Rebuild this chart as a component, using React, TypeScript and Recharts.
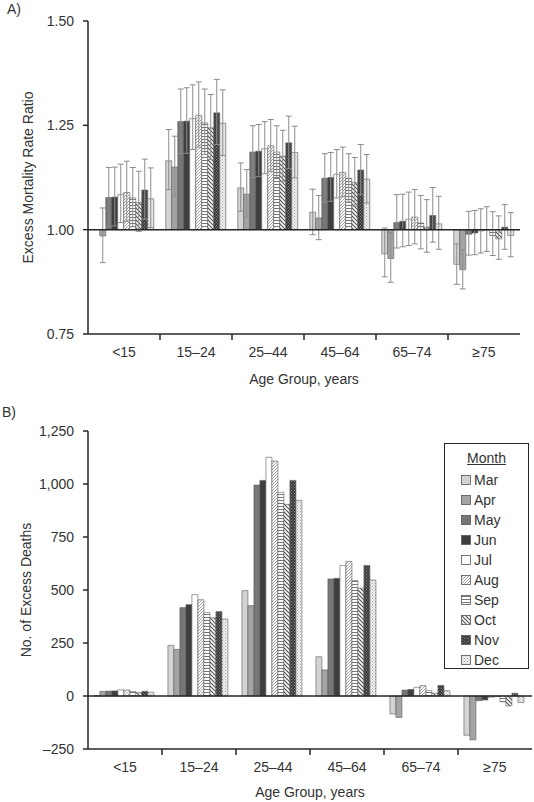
import React from 'react';
import { BarChart, Bar, XAxis, YAxis, ErrorBar, ReferenceLine, Legend, Label } from 'recharts';

const ageGroups = ['<15', '15–24', '25–44', '45–64', '65–74', '≥75'];
const months = ['Mar', 'Apr', 'May', 'Jun', 'Jul', 'Aug', 'Sep', 'Oct', 'Nov', 'Dec'];

// A) excess mortality rate ratio, by age group
const ratioMar = [1.0, 1.165, 1.1, 1.042, 0.942, 0.917];
const ratioApr = [0.985, 1.15, 1.085, 1.028, 0.931, 0.904];
const ratioMay = [1.077, 1.259, 1.186, 1.123, 1.017, 0.989];
const ratioJun = [1.078, 1.26, 1.188, 1.125, 1.02, 0.992];
const ratioJul = [1.084, 1.266, 1.194, 1.133, 1.025, 0.997];
const ratioAug = [1.089, 1.274, 1.201, 1.137, 1.03, 0.999];
const ratioSep = [1.076, 1.256, 1.186, 1.123, 1.016, 0.986];
const ratioOct = [1.065, 1.244, 1.176, 1.113, 1.006, 0.978];
const ratioNov = [1.095, 1.28, 1.208, 1.143, 1.034, 1.006];
const ratioDec = [1.074, 1.255, 1.185, 1.121, 1.014, 0.986];

// 95% CI upper bounds
const upperMar = [1.066, 1.24, 1.16, 1.097, 1.004, 0.966];
const upperApr = [1.052, 1.224, 1.144, 1.082, 0.993, 0.952];
const upperMay = [1.149, 1.337, 1.249, 1.182, 1.084, 1.044];
const upperJun = [1.15, 1.34, 1.252, 1.185, 1.085, 1.046];
const upperJul = [1.157, 1.347, 1.259, 1.192, 1.09, 1.05];
const upperAug = [1.164, 1.354, 1.264, 1.198, 1.096, 1.055];
const upperSep = [1.149, 1.337, 1.249, 1.182, 1.082, 1.043];
const upperOct = [1.14, 1.324, 1.238, 1.173, 1.072, 1.033];
const upperNov = [1.169, 1.36, 1.272, 1.204, 1.101, 1.06];
const upperDec = [1.148, 1.335, 1.248, 1.18, 1.08, 1.041];

// 95% CI lower bounds
const lowerMar = [0.934, 1.096, 1.044, 0.988, 0.887, 0.869];
const lowerApr = [0.921, 1.081, 1.03, 0.976, 0.874, 0.858];
const lowerMay = [1.008, 1.182, 1.125, 1.066, 0.956, 0.939];
const lowerJun = [1.009, 1.183, 1.127, 1.068, 0.959, 0.94];
const lowerJul = [1.017, 1.192, 1.134, 1.076, 0.962, 0.944];
const lowerAug = [1.02, 1.198, 1.14, 1.079, 0.966, 0.948];
const lowerSep = [1.007, 1.18, 1.125, 1.066, 0.954, 0.938];
const lowerOct = [0.996, 1.168, 1.116, 1.056, 0.946, 0.929];
const lowerNov = [1.025, 1.204, 1.146, 1.084, 0.97, 0.953];
const lowerDec = [1.005, 1.178, 1.124, 1.064, 0.953, 0.935];

// B) number of excess deaths, by age group
const deathsMar = [2, 239, 497, 185, -85, -185];
const deathsApr = [22, 220, 426, 123, -101, -207];
const deathsMay = [23, 417, 995, 552, 28, -22];
const deathsJun = [24, 431, 1017, 555, 31, -19];
const deathsJul = [29, 478, 1126, 616, 41, -6];
const deathsAug = [28, 454, 1108, 635, 49, -2];
const deathsSep = [21, 393, 961, 545, 25, -27];
const deathsOct = [16, 369, 904, 508, 13, -47];
const deathsNov = [22, 398, 1017, 616, 50, 13];
const deathsDec = [18, 363, 923, 547, 25, -31];

const ratioTicks = [0.75, 1.0, 1.25, 1.5];
const deathTicks = [-250, 0, 250, 500, 750, 1000, 1250];

const ratios = [ratioMar, ratioApr, ratioMay, ratioJun, ratioJul, ratioAug, ratioSep, ratioOct, ratioNov, ratioDec];
const uppers = [upperMar, upperApr, upperMay, upperJun, upperJul, upperAug, upperSep, upperOct, upperNov, upperDec];
const lowers = [lowerMar, lowerApr, lowerMay, lowerJun, lowerJul, lowerAug, lowerSep, lowerOct, lowerNov, lowerDec];
const deaths = [deathsMar, deathsApr, deathsMay, deathsJun, deathsJul, deathsAug, deathsSep, deathsOct, deathsNov, deathsDec];

// bars hang from 1.00, so plot the distance from 1 and relabel the ticks
const rateData = ageGroups.map((age, i) => {
  const row: any = { age };
  months.forEach((m, j) => {
    const r = ratios[j][i];
    row[m] = r - 1;
    row[m + 'Err'] = [r - lowers[j][i], uppers[j][i] - r];
  });
  return row;
});

const deathData = ageGroups.map((age, i) => {
  const row: any = { age };
  months.forEach((m, j) => {
    row[m] = deaths[j][i];
  });
  return row;
});

const fills: Record<string, string> = {
  Mar: '#d3d3d3',
  Apr: '#a4a4a4',
  May: '#767676',
  Jun: '#3e3e3e',
  Jul: '#ffffff',
  Aug: 'url(#pAug)',
  Sep: 'url(#pSep)',
  Oct: 'url(#pOct)',
  Nov: 'url(#pNov)',
  Dec: 'url(#pDec)',
};

const FONT = '"Liberation Sans", Arial, Helvetica, sans-serif';
const INK = '#262626';
const TEXT = '#333';

const Patterns = () => (
  <svg width={0} height={0} style={{ position: 'absolute' }}>
    <defs>
      <pattern id="pAug" patternUnits="userSpaceOnUse" width={3} height={3}>
        <rect width={3} height={3} fill="#fff" />
        <path d="M-1,1 l2,-2 M0,3 l3,-3 M2,4 l2,-2" stroke="#8a8a8a" strokeWidth={0.8} />
      </pattern>
      <pattern id="pSep" patternUnits="userSpaceOnUse" width={4} height={3}>
        <rect width={4} height={3} fill="#fff" />
        <line x1={0} y1={1.5} x2={4} y2={1.5} stroke="#777" strokeWidth={1} />
      </pattern>
      <pattern id="pOct" patternUnits="userSpaceOnUse" width={4} height={4}>
        <rect width={4} height={4} fill="#fff" />
        <path d="M0,0 l4,4 M-1,3 l2,2 M3,-1 l2,2" stroke="#555" strokeWidth={1.2} />
      </pattern>
      <pattern id="pNov" patternUnits="userSpaceOnUse" width={3} height={3}>
        <rect width={3} height={3} fill="#3a3a3a" />
        <rect x={0} y={0} width={1} height={1} fill="#8a8a8a" />
        <rect x={1.5} y={1.5} width={1} height={1} fill="#8a8a8a" />
      </pattern>
      <pattern id="pDec" patternUnits="userSpaceOnUse" width={3} height={3}>
        <rect width={3} height={3} fill="#f2f2f2" />
        <rect x={0} y={0} width={1} height={1} fill="#a0a0a0" />
        <rect x={1.5} y={1.5} width={1} height={1} fill="#b0b0b0" />
      </pattern>
    </defs>
  </svg>
);

// labels sit in the middle of a band, tick marks on the band edges
const makeAgeTick = (halfBand: number) => (props: any) => {
  const { x, y, payload, index } = props;
  return (
    <g>
      {index < ageGroups.length - 1 && (
        <line x1={x + halfBand} x2={x + halfBand} y1={y} y2={y + 6} stroke={INK} strokeWidth={1.5} />
      )}
      <text x={x} y={y + 23} textAnchor="middle" fontSize={14} fill={TEXT}>
        {payload.value}
      </text>
    </g>
  );
};

const sideTitle = (text: string, dx: number) => (props: any) => {
  const vb = props.viewBox || { x: 0, y: 0, height: 0 };
  const cx = vb.x + dx;
  const cy = vb.y + vb.height / 2;
  return (
    <text x={cx} y={cy} transform={`rotate(-90 ${cx} ${cy})`} textAnchor="middle" dominantBaseline="central" fontSize={14} fill={TEXT}>
      {text}
    </text>
  );
};

const MonthLegend = (props: any) => {
  // keep calendar order, the legend sorts by name otherwise
  const items = [...(props.payload || [])].sort(
    (a: any, b: any) => months.indexOf(a.value) - months.indexOf(b.value)
  );
  return (
    <div
      style={{
        width: 85,
        height: 226,
        boxSizing: 'border-box',
        border: `1.5px solid ${INK}`,
        background: '#fff',
        fontFamily: FONT,
        fontSize: 14,
        color: TEXT,
      }}
    >
      <div style={{ textAlign: 'center', textDecoration: 'underline', marginTop: 4, lineHeight: '20px' }}>Month</div>
      <div style={{ marginTop: 2 }}>
        {items.map((it: any) => (
          <div key={it.value} style={{ display: 'flex', alignItems: 'center', height: 20, paddingLeft: 16 }}>
            <svg width={10} height={10} style={{ marginRight: 3 }}>
              <rect x={0.5} y={0.5} width={9} height={9} fill={fills[it.value]} stroke="#555" strokeWidth={0.8} />
            </svg>
            <span>{it.value}</span>
          </div>
        ))}
      </div>
    </div>
  );
};

const axisStroke = { stroke: INK, strokeWidth: 1.5 };

export default function App() {
  return (
    <div style={{ position: 'relative', width: 534, height: 802, fontFamily: FONT, background: '#fff' }}>
      <style>{`body{margin:0;}`}</style>
      <Patterns />

      <div style={{ position: 'absolute', left: 7, top: 1, fontSize: 14, color: TEXT }}>A)</div>
      <div style={{ position: 'absolute', left: 2, top: 404, fontSize: 14, color: TEXT }}>B)</div>

      <div style={{ position: 'absolute', left: 0, top: 0 }}>
        <BarChart
          width={534}
          height={400}
          data={rateData}
          margin={{ top: 21, right: 14, bottom: 0, left: 0 }}
          barCategoryGap="8%"
          barGap={0}
        >
          <XAxis
            dataKey="age"
            height={66}
            interval={0}
            tickSize={0}
            tickMargin={0}
            tickLine={false}
            axisLine={axisStroke}
            tick={makeAgeTick(36)}
          >
            <Label value="Age Group, years" position="insideBottom" offset={16} fontSize={14} fill={TEXT} />
          </XAxis>
          <YAxis
            width={88}
            type="number"
            domain={[-0.25, 0.5]}
            ticks={ratioTicks.map((t) => t - 1)}
            allowDataOverflow
            tickFormatter={(t: number) => (1 + t).toFixed(2)}
            tickSize={5}
            tickMargin={9}
            tickLine={axisStroke}
            axisLine={axisStroke}
            tick={{ fontSize: 14, fill: TEXT }}
          >
            <Label content={sideTitle('Excess Mortality Rate Ratio', 28)} />
          </YAxis>
          {months.map((m) => (
            <Bar key={m} dataKey={m} name={m} fill={fills[m]} stroke="#5a5a5a" strokeWidth={0.6} isAnimationActive={false}>
              <ErrorBar dataKey={m + 'Err'} width={3} stroke="#8c8c8c" strokeWidth={1} direction="y" isAnimationActive={false} />
            </Bar>
          ))}
          <ReferenceLine y={0} stroke={INK} strokeWidth={1.5} />
        </BarChart>
      </div>

      <div style={{ position: 'absolute', left: 0, top: 400 }}>
        <BarChart
          width={534}
          height={402}
          data={deathData}
          margin={{ top: 31, right: 2, bottom: 0, left: 0 }}
          barCategoryGap="8%"
          barGap={0}
        >
          <XAxis
            dataKey="age"
            height={53}
            interval={0}
            tickSize={0}
            tickMargin={0}
            tickLine={false}
            axisLine={axisStroke}
            tick={makeAgeTick(37)}
          >
            <Label value="Age Group, years" position="insideBottom" offset={5} fontSize={14} fill={TEXT} />
          </XAxis>
          <YAxis
            width={88}
            type="number"
            domain={[-250, 1250]}
            ticks={deathTicks}
            allowDataOverflow
            tickFormatter={(t: number) => (t < 0 ? '–' + Math.abs(t).toLocaleString('en-US') : t.toLocaleString('en-US'))}
            tickSize={5}
            tickMargin={9}
            tickLine={axisStroke}
            axisLine={axisStroke}
            tick={{ fontSize: 14, fill: TEXT }}
          >
            <Label content={sideTitle('No. of Excess Deaths', 26)} />
          </YAxis>
          {months.map((m) => (
            <Bar key={m} dataKey={m} name={m} fill={fills[m]} stroke="#5a5a5a" strokeWidth={0.6} isAnimationActive={false} />
          ))}
          <ReferenceLine y={0} stroke={INK} strokeWidth={1.5} />
          <Legend
            layout="vertical"
            align="center"
            verticalAlign="middle"
            wrapperStyle={{ left: 444, top: 43, width: 85 }}
            content={<MonthLegend />}
          />
        </BarChart>
      </div>
    </div>
  );
}
